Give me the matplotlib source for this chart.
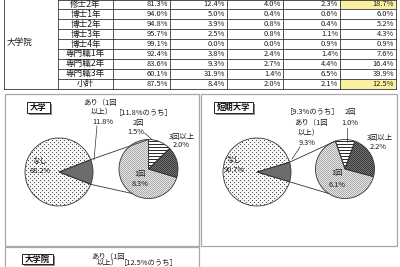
import numpy as np
import matplotlib
matplotlib.use('Agg')
import matplotlib.pyplot as plt
from matplotlib.colors import to_rgb
from matplotlib.patches import Rectangle

plt.rcParams['font.family'] = ['Noto Sans CJK JP', 'DejaVu Sans']

# 大学院 table (rows shown)
row_names = ['修士2年', '博士1年', '博士2年', '博士3年', '博士4年',
             '専門職1年', '専門職2年', '専門職3年', '小計']
col_none = [81.3, 94.0, 94.8, 95.7, 99.1, 92.4, 83.6, 60.1, 87.5]
col_once = [12.4, 5.0, 3.9, 2.5, 0.0, 3.8, 9.3, 31.9, 8.4]
col_twice = [4.0, 0.4, 0.8, 0.8, 0.0, 2.4, 2.7, 1.4, 2.0]
col_three = [2.3, 0.6, 0.4, 1.1, 0.9, 1.4, 4.4, 6.5, 2.1]
col_any = [18.7, 6.0, 5.2, 4.3, 0.9, 7.6, 16.4, 39.9, 12.5]
highlight_rows = ['修士2年', '小計']

# pie-of-pie data: [あり, なし] and breakdown [2回, 3回以上, 1回]
univ_split = [11.8, 88.2]
univ_detail = [1.5, 2.0, 8.3]
jc_split = [9.3, 90.7]
jc_detail = [1.0, 2.2, 6.1]
grad_any = col_any[-1]

W, H = 400, 267
fig = plt.figure(figsize=(4, 2.67), dpi=100)
ax = fig.add_axes([0, 0, 1, 1])
ax.set_xlim(0, W)
ax.set_ylim(H, 0)
ax.axis('off')

ink = '#1c1c1c'
line_c = '#333333'

# ---- table ----
col_edges = [4, 58, 113, 170, 227, 283, 340, 396]
top, rh = -0.5, 9.9
n = len(row_names)
bottom = top + n * rh
for i, name in enumerate(row_names):
    if name in highlight_rows:
        ax.add_patch(Rectangle((col_edges[6], top + i * rh), col_edges[7] - col_edges[6], rh,
                               fc='#f9f0a2', ec='none', zorder=0))
for i in range(n + 1):
    y = top + i * rh
    x0 = col_edges[0] if i == n else col_edges[1]
    ax.plot([x0, col_edges[-1]], [y, y], color=line_c, lw=0.6)
for x in col_edges:
    ax.plot([x, x], [top, bottom], color=line_c, lw=0.6)

ax.text(7, 42, '大学院', ha='left', va='center', fontsize=6.2, color=ink)
cols = [col_none, col_once, col_twice, col_three, col_any]
for i, name in enumerate(row_names):
    yc = top + (i + 0.5) * rh
    ax.text((col_edges[1] + col_edges[2]) / 2, yc, name, ha='center', va='center',
            fontsize=6.2, color=ink)
    for j, col in enumerate(cols):
        ax.text(col_edges[j + 3] - 2, yc, f'{col[i]:.1f}%', ha='right', va='center',
                fontsize=5.4, color=ink)

# ---- panels ----
for (x, y, w, h) in [(5, 94, 194, 152), (201, 94, 196, 152), (5, 247, 194, 40)]:
    ax.add_patch(Rectangle((x, y), w, h, fc='white', ec='#a8a8a8', lw=0.9, zorder=0.5))


def tag(x, y, w, h, s):
    ax.add_patch(Rectangle((x + 1.5, y + 1.5), w, h, fc='#8c8c8c', ec='none', zorder=3))
    ax.add_patch(Rectangle((x, y), w, h, fc='white', ec='#222222', lw=0.7, zorder=3))
    ax.text(x + w / 2, y + h / 2, s, ha='center', va='center', fontsize=6.0,
            fontweight='bold', color='#111111', zorder=4)


# ---- textures for the pie slices ----
yy, xx = np.mgrid[0:H, 0:W]


def texture(base, dark, mask):
    tex = np.empty((H, W, 3))
    tex[:] = to_rgb(base)
    tex[mask] = to_rgb(dark)
    return tex


tex_dots = texture('#f6f6f6', '#505050',
                   ((xx % 4 == 0) & (yy % 4 == 0)) | ((xx % 4 == 2) & (yy % 4 == 2)))
tex_solid = texture('#6c6c6c', '#6c6c6c', np.zeros((H, W), bool))
tex_check = texture('#e6e6e6', '#aaaaaa', (xx + yy) % 2 == 0)
tex_stripe = texture('#ffffff', '#2e2e2e', yy % 3 == 0)
tex_dark = texture('#747474', '#3a3a3a', (xx + yy) % 2 == 0)


def fill(wedge, tex):
    im = ax.imshow(tex, extent=(0, W, H, 0), interpolation='nearest', zorder=1)
    im.set_clip_path(wedge)


wp = dict(fc='none', ec='#333333', lw=0.6, zorder=2)


def pie_of_pie(split, detail, big_c, big_r, small_c, small_r, small_start):
    # y axis is inverted, so data angles are mirrored on screen
    big, _ = ax.pie(split, center=big_c, radius=big_r, startangle=-split[0] * 1.8,
                    counterclock=True, frame=True, wedgeprops=wp)
    fill(big[0], tex_solid)
    fill(big[1], tex_dots)
    small, _ = ax.pie(detail, center=small_c, radius=small_r, startangle=-small_start,
                      counterclock=True, frame=True, wedgeprops=wp)
    for wdg, tex in zip(small, [tex_stripe, tex_dark, tex_check]):
        fill(wdg, tex)
    half = np.deg2rad(split[0] * 1.8)
    a_top = np.deg2rad(small_start)
    a_bot = np.deg2rad(236)
    for s, a in [(1, a_top), (-1, a_bot)]:
        x0 = big_c[0] + big_r * np.cos(half)
        y0 = big_c[1] - s * big_r * np.sin(half)
        x1 = small_c[0] + small_r * np.cos(a)
        y1 = small_c[1] - small_r * np.sin(a)
        ax.plot([x0, x1], [y0, y1], color='#333333', lw=0.6, zorder=2.5)


pct = lambda v: f'{v:.1f}%'
fs = 5.3

# 大学
tag(27, 102, 23, 11, '大学')
pie_of_pie(univ_split, univ_detail, (59, 172), 34, (148.5, 169), 29.5, 90)
for x, y, s in [(100.5, 102.5, 'あり（1回'), (102, 112.5, '以上）'), (102.5, 122.5, pct(univ_split[0])),
                (144, 113, f'［{univ_split[0]:.1f}%のうち］'),
                (138, 123, '2回'), (135.5, 131.7, pct(univ_detail[0])),
                (181.5, 137, '3回以上'), (181.5, 145, pct(univ_detail[1])),
                (140, 174, '1回'), (140, 184, pct(univ_detail[2]))]:
    ax.text(x, y, s, ha='center', va='center', fontsize=fs, color=ink, zorder=5)
ax.text(32, 160.5, 'なし', ha='left', va='center', fontsize=fs, color=ink, zorder=5)
ax.text(30, 170.7, pct(univ_split[1]), ha='left', va='center', fontsize=fs, color=ink, zorder=5)
ax.plot([97, 94], [126, 160], color='#333333', lw=0.5, zorder=2.5)
ax.plot([144.5, 152], [133, 139.5], color='#333333', lw=0.5, zorder=2.5)

# 短期大学
tag(214, 102, 39, 11, '短期大学')
pie_of_pie(jc_split, jc_detail, (257, 172), 34, (345, 169), 29.5, 109)
for x, y, s in [(312.5, 112, f'［{jc_split[0]:.1f}%のうち］'),
                (350, 112, '2回'), (349.5, 123, pct(jc_detail[0])),
                (311, 123, 'あり（1回'), (309, 133, '以上）'), (307, 143, pct(jc_split[0])),
                (380, 138, '3回以上'), (378.5, 147, pct(jc_detail[1])),
                (337, 173, '1回'), (337, 185, pct(jc_detail[2]))]:
    ax.text(x, y, s, ha='center', va='center', fontsize=fs, color=ink, zorder=5)
ax.text(226, 160, 'なし', ha='left', va='center', fontsize=fs, color=ink, zorder=5)
ax.text(224, 170, pct(jc_split[1]), ha='left', va='center', fontsize=fs, color=ink, zorder=5)
ax.plot([347, 347], [128, 142], color='#333333', lw=0.5, zorder=2.5)
ax.plot([300, 292], [147, 159], color='#333333', lw=0.5, zorder=2.5)

# 大学院
tag(22, 254, 31, 10, '大学院')
ax.text(108, 256.5, 'あり（1回', ha='center', va='center', fontsize=fs, color=ink)
ax.text(107.5, 263.5, '以上）', ha='center', va='center', fontsize=fs, color=ink)
ax.text(149, 263.5, f'［{grad_any:.1f}%のうち］', ha='center', va='center', fontsize=fs, color=ink)

ax.set_xlim(0, W)
ax.set_ylim(H, 0)
fig.savefig('out.png', dpi=100)
